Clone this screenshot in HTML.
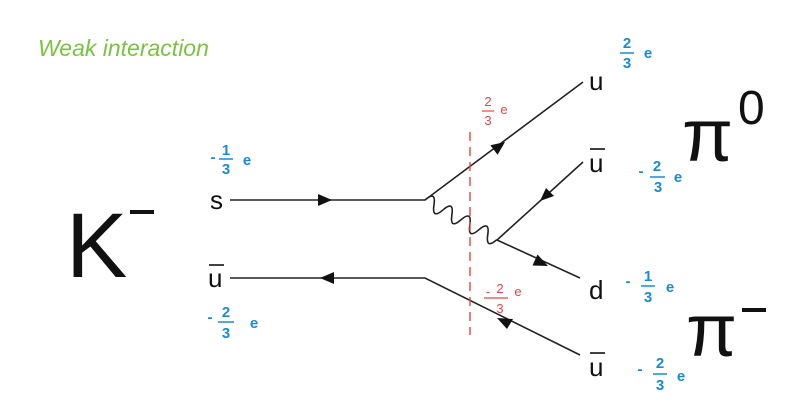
<!DOCTYPE html>
<html><head><style>
html,body{margin:0;padding:0;background:#fff;}
svg{display:block;}
text{font-family:"Liberation Sans",sans-serif;}
.b{fill:#1a8ad8;font-size:15px;font-weight:bold;text-anchor:middle;}
.r{fill:#e04848;font-size:13px;text-anchor:middle;}
.q{fill:#111;font-size:26px;}
</style></head><body>
<svg width="800" height="405" viewBox="0 0 800 405">
<text x="38" y="56" fill="#7cc242" font-size="23" font-style="italic">Weak interaction</text>
<text x="66" y="277" font-size="92" fill="#111">K</text>
<rect x="130" y="210" width="24" height="4" fill="#111"/>
<text x="682" y="161" font-size="74" fill="#111">π</text>
<text x="738" y="124" font-size="48" fill="#111">0</text>
<text x="686" y="356" font-size="74" fill="#111">π</text>
<rect x="742" y="308" width="24" height="4" fill="#111"/>

<g stroke="#222" stroke-width="1.6" fill="none">
<path d="M230 200 H425 L583 82"/>
<path d="M583 162 L497 240 L580 278"/>
<path d="M230 278 H425 L580 355"/>
<path transform="translate(425,200) rotate(29)" d="M0 0 q5.1 -14 10.25 0 t10.25 0 t10.25 0 t10.25 0 t10.25 0 t10.25 0 t10.25 0 t10.25 0"/>
</g>
<g fill="#111">
<polygon points="332,200 318,194 318,206"/>
<polygon points="320,278 334,272 334,284"/>
<polygon points="505,142 497.6,154.8 490.4,145.2"/>
<polygon points="540,201 554,196 546,188"/>
<polygon points="548,266 532.5,265.5 537.5,254.5"/>
<polygon points="497,318 507,329 513,319"/>
</g>
<line x1="470" y1="132" x2="470" y2="335" stroke="#e04848" stroke-width="1.4" stroke-dasharray="9,6"/>

<text class="q" x="210" y="209">s</text>
<text class="q" x="208" y="287">u</text><line x1="209" y1="265" x2="224" y2="265" stroke="#111" stroke-width="1.6"/>
<text class="q" x="589" y="90">u</text>
<text class="q" x="589" y="172">u</text><line x1="590" y1="149" x2="605" y2="149" stroke="#111" stroke-width="1.6"/>
<text class="q" x="589" y="299">d</text>
<text class="q" x="589" y="376">u</text><line x1="590" y1="353" x2="605" y2="353" stroke="#111" stroke-width="1.6"/>

<g class="b">
<text x="213" y="162">-</text><text x="226" y="155">1</text><line x1="219" y1="159" x2="233" y2="159" stroke="#1a8ad8" stroke-width="1.5"/><text x="226" y="174">3</text><text x="247" y="165">e</text>
<text x="210" y="322">-</text><text x="226" y="317">2</text><line x1="218" y1="322" x2="234" y2="322" stroke="#1a8ad8" stroke-width="1.5"/><text x="226" y="338">3</text><text x="254" y="328">e</text>
<text x="627" y="48">2</text><line x1="620" y1="53" x2="634" y2="53" stroke="#1a8ad8" stroke-width="1.5"/><text x="627" y="68">3</text><text x="648" y="58">e</text>
<text x="641" y="176">-</text><text x="657" y="171">2</text><line x1="650" y1="177" x2="665" y2="177" stroke="#1a8ad8" stroke-width="1.5"/><text x="658" y="192">3</text><text x="678" y="182">e</text>
<text x="628" y="286">-</text><text x="648" y="281">1</text><line x1="641" y1="286" x2="655" y2="286" stroke="#1a8ad8" stroke-width="1.5"/><text x="648" y="302">3</text><text x="670" y="292">e</text>
<text x="640" y="374">-</text><text x="660" y="368">2</text><line x1="653" y1="374" x2="667" y2="374" stroke="#1a8ad8" stroke-width="1.5"/><text x="660" y="390">3</text><text x="681" y="381">e</text>
</g>
<g class="r">
<text x="488" y="106">2</text><line x1="482" y1="111" x2="494" y2="111" stroke="#e04848" stroke-width="1.2"/><text x="488" y="125">3</text><text x="504" y="114">e</text>
<text x="488" y="296">-</text><text x="500" y="293">2</text><line x1="484" y1="298" x2="508" y2="298" stroke="#e04848" stroke-width="1.2"/><text x="500" y="313">3</text><text x="518" y="296">e</text>
</g>
</svg>
</body></html>
